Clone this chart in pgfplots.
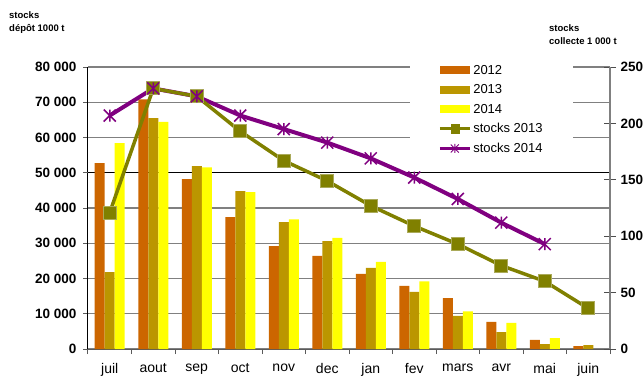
\documentclass[border=0pt]{standalone}
\usepackage{fontspec}
\setmainfont{Liberation Sans}
\usepackage{pgfplots}
\pgfplotsset{compat=1.18}
\definecolor{cA}{RGB}{204,102,0}
\definecolor{cB}{RGB}{187,150,0}
\definecolor{cC}{RGB}{255,255,0}
\definecolor{olv}{RGB}{128,128,0}
\definecolor{olvedge}{RGB}{170,170,90}
\definecolor{prp}{RGB}{128,0,128}
\definecolor{grd}{RGB}{128,128,128}
\pgfdeclareplotmark{xstar}{%
  \pgfpathmoveto{\pgfqpoint{-\pgfplotmarksize}{-\pgfplotmarksize}}%
  \pgfpathlineto{\pgfqpoint{\pgfplotmarksize}{\pgfplotmarksize}}%
  \pgfpathmoveto{\pgfqpoint{-\pgfplotmarksize}{\pgfplotmarksize}}%
  \pgfpathlineto{\pgfqpoint{\pgfplotmarksize}{-\pgfplotmarksize}}%
  \pgfpathmoveto{\pgfqpoint{0pt}{-\pgfplotmarksize}}%
  \pgfpathlineto{\pgfqpoint{0pt}{\pgfplotmarksize}}%
  \pgfusepathqstroke}
\begin{document}
\begin{tikzpicture}
\useasboundingbox (-88pt,-27pt) rectangle (556pt,349pt);
\begin{axis}[
  at={(0pt,0pt)}, anchor=south west, scale only axis,
  width=522pt, height=282pt,
  xmin=-0.5, xmax=11.5, ymin=0, ymax=80000,
  scaled y ticks=false,
  axis y line*=left, axis x line*=bottom,
  y axis line style={black, line width=1pt},
  x axis line style={grd!70!black, line width=1pt},
  ybar=0pt, bar width=10pt,
  tick align=outside, major tick length=5pt,
  tick style={grd!70!black, line width=1pt},
  xtick={-0.5,0.5,...,11.5}, xticklabels={},
  extra x ticks={0,1,2,3,4,5,6,7,8,9,10,11},
  extra x tick labels={juil,aout,sep,oct,nov,dec,jan,fev,mars,avr,mai,juin},
  extra x tick style={major tick length=0pt, xticklabel style={font=\fontsize{14}{16}\selectfont, yshift=-11pt}},
  ytick={0,10000,20000,30000,40000,60000,70000,80000},
  yticklabels={0,10 000,20 000,30 000,40 000,60 000,70 000,80 000},
  extra y ticks={50000}, extra y tick labels={50 000},
  extra y tick style={grid style={black, line width=1.2pt}},
  yticklabel style={font=\bfseries\fontsize{13.5}{15}\selectfont, xshift=-3pt},
  ymajorgrids, grid style={grd, line width=1.2pt},
  legend style={at={(0.617,1.032)}, anchor=north west, fill=white, draw=none,
    font=\fontsize{13}{15}\selectfont, inner xsep=28pt, inner ysep=3pt, row sep=4.8pt,
    cells={anchor=west}, yshift=-2pt},
  legend cell align=left,
  area legend,
]
\addplot[fill=cA, draw=none, legend image code/.code={\fill[cA] (0pt,-4pt) rectangle (30pt,4pt);}] coordinates {(0,52700)(1,70800)(2,48200)(3,37400)(4,29200)(5,26400)(6,21300)(7,17900)(8,14400)(9,7700)(10,2600)(11,850)};
\addlegendentry{2012}
\addplot[fill=cB, draw=none, legend image code/.code={\fill[cB] (0pt,-4pt) rectangle (30pt,4pt);}] coordinates {(0,21800)(1,65500)(2,51900)(3,44800)(4,36000)(5,30600)(6,23000)(7,16200)(8,9400)(9,4800)(10,1400)(11,1100)};
\addlegendentry{2013}
\addplot[fill=cC, draw=none, legend image code/.code={\fill[cC] (0pt,-4pt) rectangle (30pt,4pt);}] coordinates {(0,58400)(1,64400)(2,51500)(3,44500)(4,36800)(5,31500)(6,24700)(7,19200)(8,10700)(9,7400)(10,3100)};
\addlegendentry{2014}
\addlegendimage{legend image code/.code={\draw[olv, line width=3pt] (0pt,0pt) -- (30pt,0pt); \fill[olv] (11pt,-4.5pt) rectangle (19pt,4.5pt);}}
\addlegendentry{stocks 2013}
\addlegendimage{legend image code/.code={\draw[prp, line width=3pt] (0pt,0pt) -- (30pt,0pt); \draw[prp, line width=1pt] (11pt,-4pt) -- (19pt,4pt) (11pt,4pt) -- (19pt,-4pt) (15pt,-4.5pt) -- (15pt,4.5pt);}}
\addlegendentry{stocks 2014}
\end{axis}
\begin{axis}[
  at={(0pt,0pt)}, anchor=south west, scale only axis,
  width=522pt, height=282pt,
  xmin=-0.5, xmax=11.5, ymin=0, ymax=250,
  axis x line=none, axis y line*=right,
  y axis line style={grd, line width=1.2pt},
  ytick={0,50,100,150,200,250},
  yticklabels={0,50,100,150,200,250},
  tick align=center, major tick length=12pt,
  tick style={grd!60!black, line width=1pt},
  yticklabel style={font=\bfseries\fontsize{13.5}{15}\selectfont, xshift=1pt},
  clip=false,
]
\addplot[prp, line width=4pt, no markers] coordinates {(0,207)(1,231)(2,224)(3,207)(4,195)(5,183)(6,169)(7,152)(8,133)(9,112)(10,93)};
\addplot[olv, line width=3.5pt, mark=square*, mark size=6.5pt, mark options={draw=olvedge, fill=olv, line width=1pt}] coordinates {(0,121)(1,231)(2,224)(3,193)(4,167)(5,149)(6,127)(7,109)(8,93)(9,74)(10,60)(11,36)};
\addplot[prp, only marks, mark=xstar, mark size=6pt, mark options={line width=1.5pt}] coordinates {(0,207)(1,231)(2,224)(3,207)(4,195)(5,183)(6,169)(7,152)(8,133)(9,112)(10,93)};
\end{axis}
\node[anchor=west, font=\bfseries\fontsize{9.5}{11}\selectfont, inner sep=0pt] at (-79pt,333.5pt) {stocks};
\node[anchor=west, font=\bfseries\fontsize{9.5}{11}\selectfont, inner sep=0pt] at (-79pt,320pt) {dépôt 1000 t};
\node[anchor=west, font=\bfseries\fontsize{9.5}{11}\selectfont, inner sep=0pt] at (461pt,321pt) {stocks};
\node[anchor=west, font=\bfseries\fontsize{9.5}{11}\selectfont, inner sep=0pt] at (461pt,307.5pt) {collecte 1 000 t};
\end{tikzpicture}
\end{document}
